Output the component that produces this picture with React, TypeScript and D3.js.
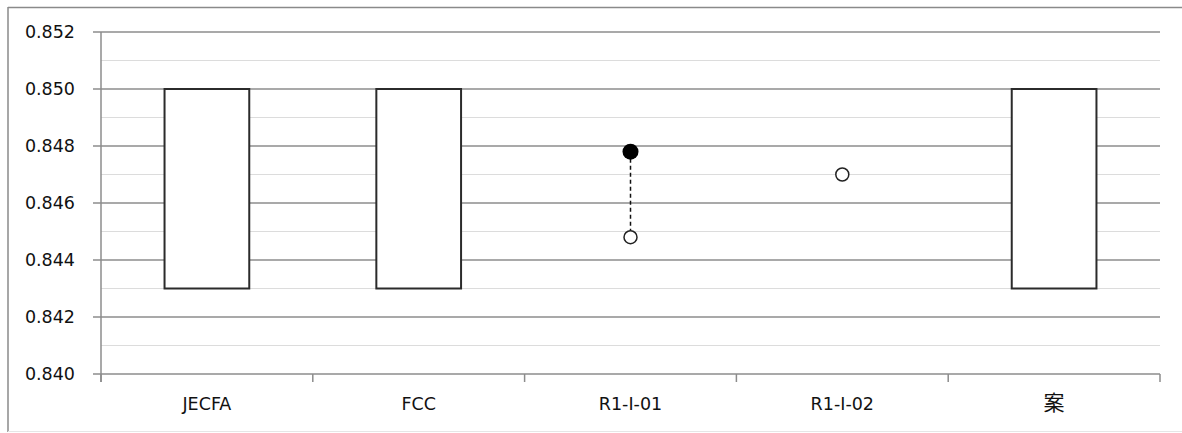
import React from "react";
import * as d3 from "d3";

const categories = ["JECFA", "FCC", "R1-I-01", "R1-I-02", "案"];
const rangeCategories = ["JECFA", "FCC", "案"];
const rangeLow = [0.843, 0.843, 0.843];
const rangeHigh = [0.85, 0.85, 0.85];
const filledCategories = ["R1-I-01"];
const filledValues = [0.8478];
const openCategories = ["R1-I-01", "R1-I-02"];
const openValues = [0.8448, 0.847];
const yTicks = [0.84, 0.842, 0.844, 0.846, 0.848, 0.85, 0.852];
const yMinorTicks = [0.841, 0.843, 0.845, 0.847, 0.849, 0.851];

const W = 1182;
const H = 433;
const FONT = "'DejaVu Sans', Verdana, sans-serif";

export default function App() {
  const x = d3.scaleBand<string>().domain(categories).range([101, 1160]).padding(0);
  const y = d3.scaleLinear().domain([0.84, 0.852]).range([374, 32]);
  const bw = x.bandwidth();
  const cx = (c: string) => (x(c) as number) + bw / 2;
  const boxW = bw * 0.4;
  const boundaries = categories.map((c) => x(c) as number).concat([1160]);

  return (
    <div style={{ position: "absolute", left: 0, top: 0 }}>
      <svg width={W} height={H} style={{ display: "block", background: "#fff" }}>
        {/* chart border */}
        <line x1={8} y1={7.5} x2={W} y2={7.5} stroke="#8a8a8a" strokeWidth={1.5} />
        <line x1={8} y1={7} x2={8} y2={432} stroke="#8a8a8a" strokeWidth={1.5} />
        <line x1={8} y1={431.5} x2={W} y2={431.5} stroke="#e6e6e6" strokeWidth={1} />

        {/* minor gridlines */}
        {yMinorTicks.map((t) => (
          <line key={"m" + t} x1={101} x2={1160} y1={y(t)} y2={y(t)} stroke="#dcdcdc" strokeWidth={1.2} />
        ))}
        {/* major gridlines */}
        {yTicks.map((t) => (
          <line key={"M" + t} x1={93} x2={1160} y1={y(t)} y2={y(t)} stroke="#8c8c8c" strokeWidth={1.5} />
        ))}
        {/* axes */}
        <line x1={101} x2={101} y1={y(0.852)} y2={382} stroke="#8c8c8c" strokeWidth={1.5} />
        {boundaries.map((b, i) => (
          <line key={"b" + i} x1={b} x2={b} y1={374} y2={382} stroke="#8c8c8c" strokeWidth={1.5} />
        ))}

        {/* y labels */}
        {yTicks.map((t) => (
          <text key={"t" + t} x={75} y={y(t)} dy="0.35em" textAnchor="end" fontFamily={FONT} fontSize={17.5} fill="#111">
            {d3.format(".3f")(t)}
          </text>
        ))}
        {/* x labels */}
        {categories.map((c) => (
          <text
            key={"c" + c}
            x={cx(c)}
            y={410}
            textAnchor="middle"
            fontFamily={c === "案" ? "'Noto Sans CJK JP', sans-serif" : FONT}
            fontSize={c === "案" ? 21 : 17.5}
            fill="#111"
          >
            {c}
          </text>
        ))}

        {/* range boxes */}
        {rangeCategories.map((c, i) => (
          <rect
            key={"r" + c}
            x={cx(c) - boxW / 2}
            y={y(rangeHigh[i])}
            width={boxW}
            height={y(rangeLow[i]) - y(rangeHigh[i])}
            fill="#fff"
            stroke="#2b2b2b"
            strokeWidth={2}
          />
        ))}

        {/* dashed connector */}
        {filledCategories.map((c, i) => {
          const j = openCategories.indexOf(c);
          if (j < 0) return null;
          return (
            <line
              key={"d" + c}
              x1={cx(c)}
              x2={cx(c)}
              y1={y(filledValues[i])}
              y2={y(openValues[j])}
              stroke="#111"
              strokeWidth={1.5}
              strokeDasharray="4,3"
            />
          );
        })}

        {/* open points */}
        {openCategories.map((c, i) => (
          <circle key={"o" + c} cx={cx(c)} cy={y(openValues[i])} r={6.5} fill="#fff" stroke="#222" strokeWidth={1.5} />
        ))}
        {/* filled points */}
        {filledCategories.map((c, i) => (
          <circle key={"f" + c} cx={cx(c)} cy={y(filledValues[i])} r={8} fill="#000" />
        ))}
      </svg>
    </div>
  );
}
